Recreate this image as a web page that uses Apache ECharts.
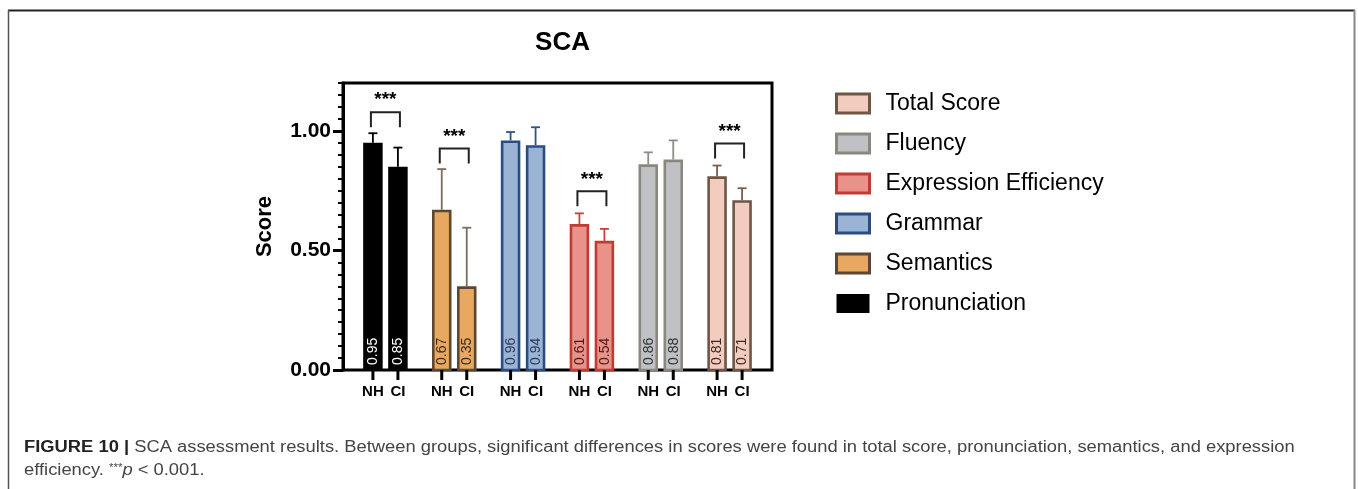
<!DOCTYPE html>
<html>
<head>
<meta charset="utf-8">
<script src="https://cdn.jsdelivr.net/npm/echarts@6/dist/echarts.min.js"></script>
<style>
html,body{margin:0;padding:0;background:#fff;}
#chart{width:1358px;height:489px;}
</style>
</head>
<body>
<div id="chart"></div>
<script>
// ---- data ----
const groups = ['Pronunciation', 'Semantics', 'Grammar', 'Expression Efficiency', 'Fluency', 'Total Score'];
const subLabels = ['NH', 'CI'];
const nhMean = [0.95, 0.67, 0.96, 0.61, 0.86, 0.81];
const ciMean = [0.85, 0.35, 0.94, 0.54, 0.88, 0.71];
const nhSD = [0.04, 0.17, 0.035, 0.045, 0.05, 0.045];
const ciSD = [0.08, 0.245, 0.075, 0.05, 0.08, 0.05];
const sigBracket = [1.078, 0.926, null, 0.747, null, 0.947];
const sigText = ['***', '***', null, '***', null, '***'];
const yTickValues = [0, 0.5, 1.0];
const legendOrder = ['Total Score', 'Fluency', 'Expression Efficiency', 'Grammar', 'Semantics', 'Pronunciation'];

// ---- styles ----
const FONT = 'Liberation Sans, Arial, Helvetica, sans-serif';
const fills   = ['#000000', '#E8A85F', '#9BB4D6', '#E8928A', '#BFC1C4', '#F2CDBF'];
const borders = ['#000000', '#5B4733', '#2A4C7E', '#C23B33', '#8B877F', '#6F5545'];
const errCols = ['#000000', '#7C6D5E', '#2E5284', '#C8413A', '#8F8B85', '#7A5C4B'];
const valCols = ['#ffffff', '#3a2a1a', '#2a3a55', '#4a1a1a', '#333333', '#3a2a22'];
const BAR_W = 19.5, OFF = 12.5, BW = 2.6, CAP = 9;

function makeRender(gi) {
  return function (params, api) {
    const idx = api.value(1);
    const mean = api.value(2), sd = api.value(3);
    const top = api.coord([api.value(0), mean]);
    const base = api.coord([api.value(0), 0]);
    const et = api.coord([api.value(0), mean + sd]);
    const cx = top[0] + (idx === 0 ? -OFF : OFF);
    const children = [];
    // error bar
    children.push({type: 'line', shape: {x1: cx, y1: top[1], x2: cx, y2: et[1]},
      style: {stroke: errCols[gi], lineWidth: 1.8}});
    children.push({type: 'line', shape: {x1: cx - CAP / 2, y1: et[1], x2: cx + CAP / 2, y2: et[1]},
      style: {stroke: errCols[gi], lineWidth: 1.8}});
    // bar
    const bw = gi === 0 ? 0 : BW;
    children.push({type: 'rect',
      shape: {x: cx - BAR_W / 2 + bw / 2, y: top[1] + bw / 2, width: BAR_W - bw, height: base[1] - top[1] - bw / 2},
      style: {fill: fills[gi], stroke: gi === 0 ? null : borders[gi], lineWidth: bw}});
    // value label
    children.push({type: 'text', x: cx + 0.5, y: base[1] - 5, rotation: Math.PI / 2,
      style: {text: mean.toFixed(2), fill: valCols[gi], font: '14px ' + FONT, align: 'left', verticalAlign: 'middle'}});
    // x tick + label
    children.push({type: 'line', shape: {x1: cx, y1: base[1], x2: cx, y2: base[1] + 10},
      style: {stroke: '#000', lineWidth: 3}});
    children.push({type: 'text', x: cx, y: base[1] + 22,
      style: {text: subLabels[idx], fill: '#000', font: 'bold 15px ' + FONT, align: 'center', verticalAlign: 'middle'}});
    // significance bracket
    if (idx === 0 && sigBracket[gi] != null) {
      const b = api.coord([api.value(0), sigBracket[gi]]);
      const x1 = b[0] - OFF - 2, x2 = b[0] + OFF + 2, by = b[1], leg = 15;
      children.push({type: 'polyline', shape: {points: [[x1, by + leg], [x1, by], [x2, by], [x2, by + leg]]},
        style: {stroke: '#222', lineWidth: 2, fill: null}});
      children.push({type: 'text', x: b[0], y: by - 12,
        style: {text: sigText[gi], fill: '#000', font: 'bold 19px ' + FONT, align: 'center', verticalAlign: 'middle'}});
    }
    return {type: 'group', children: children};
  };
}

const series = groups.map((g, gi) => ({
  name: g,
  type: 'custom',
  xAxisIndex: 1,
  yAxisIndex: 2,
  clip: false,
  itemStyle: {color: fills[gi], borderColor: borders[gi]},
  encode: {x: 0, y: 2},
  data: [[gi, 0, nhMean[gi], nhSD[gi]], [gi, 1, ciMean[gi], ciSD[gi]]],
  renderItem: makeRender(gi)
}));

const chart = echarts.init(document.getElementById('chart'), null, {renderer: 'canvas'});
chart.setOption({
  animation: false,
  backgroundColor: '#fff',
  textStyle: {fontFamily: FONT},
  title: {text: 'SCA', left: 557.5, top: 25, textAlign: 'center',
    textStyle: {fontFamily: FONT, fontWeight: 'bold', fontSize: 26, color: '#000'}},
  legend: {
    orient: 'vertical', left: 830, top: 87, itemWidth: 33, itemHeight: 19, itemGap: 17, icon: 'rect',
    textStyle: {fontFamily: FONT, fontSize: 23, color: '#000', lineHeight: 19, padding: [0, 0, 0, 11]},
    selectedMode: false,
    data: legendOrder.map(n => {
      const gi = groups.indexOf(n);
      return {name: n, itemStyle: {color: fills[gi], borderColor: borders[gi], borderWidth: gi === 0 ? 0 : 3}};
    })
  },
  grid: [
    {left: 343, top: 83, width: 429, height: 287, show: true, borderColor: '#000', borderWidth: 3, backgroundColor: 'transparent'},
    {left: 351, top: 83, width: 413, height: 287}
  ],
  xAxis: [
    {gridIndex: 0, type: 'value', min: 0, max: 1, show: false},
    {gridIndex: 1, type: 'category', data: groups, show: false}
  ],
  yAxis: [
    {gridIndex: 0, type: 'value', position: 'left', min: 0, max: 1.2,
      name: 'Score', nameLocation: 'middle', nameGap: 67,
      nameTextStyle: {fontFamily: FONT, fontWeight: 'bold', fontSize: 22, color: '#000'},
      axisLine: {show: true, lineStyle: {color: '#000', width: 3}},
      axisTick: {show: true, customValues: yTickValues, length: 10, lineStyle: {color: '#000', width: 3}},
      axisLabel: {show: true, customValues: yTickValues, margin: 12, formatter: v => v.toFixed(2),
        fontFamily: FONT, fontWeight: 'bold', fontSize: 21, color: '#000'},
      splitLine: {show: false}},
    {gridIndex: 0, type: 'value', position: 'left', min: 0, max: 1.2, interval: 0.05,
      axisLine: {show: false},
      axisTick: {show: true, length: 5, lineStyle: {color: '#000', width: 2}},
      axisLabel: {show: false}, splitLine: {show: false}},
    {gridIndex: 1, type: 'value', min: 0, max: 1.2, show: false}
  ],
  series: series,
  graphic: [
    {type: 'line', shape: {x1: 8, y1: 10.5, x2: 1355, y2: 10.5}, style: {stroke: '#222', lineWidth: 2}},
    {type: 'line', shape: {x1: 8.5, y1: 10, x2: 8.5, y2: 489}, style: {stroke: '#555', lineWidth: 1.5}},
    {type: 'line', shape: {x1: 1354.5, y1: 10, x2: 1354.5, y2: 489}, style: {stroke: '#888', lineWidth: 2}},
    {type: 'text', x: 24, y: 440, scaleX: 1.147,
      style: {text: '{b|FIGURE 10 |} SCA assessment results. Between groups, significant differences in scores were found in total score, pronunciation, semantics, and expression',
        rich: {b: {fontWeight: 'bold', fontSize: 16, fontFamily: FONT, fill: '#222'}},
        font: '16px ' + FONT, fill: '#444'}},
    {type: 'text', x: 24, y: 463, scaleX: 1.147,
      style: {text: 'efficiency. {s|***}{i|p} < 0.001.',
        rich: {s: {fontSize: 10, fontFamily: FONT, fill: '#444', verticalAlign: 'top', padding: [0, 0, 6, 0]},
               i: {fontStyle: 'italic', fontSize: 16, fontFamily: FONT, fill: '#444'}},
        font: '16px ' + FONT, fill: '#444'}}
  ]
});
</script>
</body>
</html>
